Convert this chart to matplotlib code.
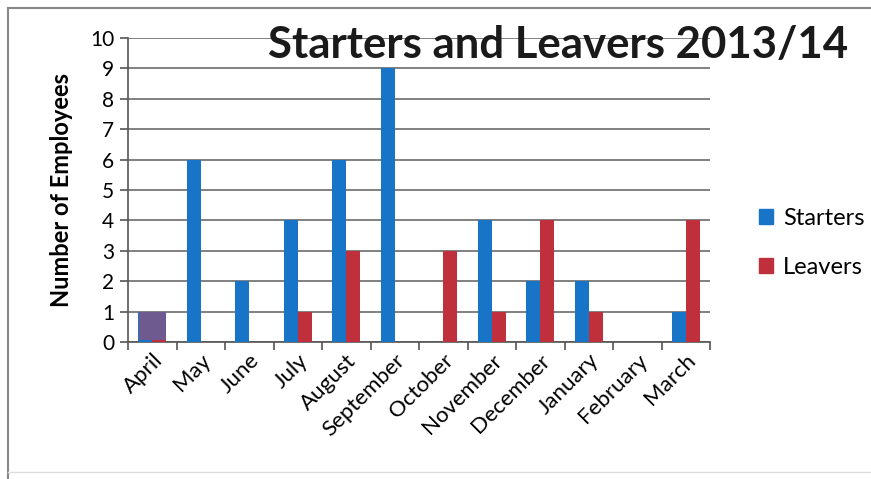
import matplotlib
matplotlib.use("Agg")
import matplotlib.pyplot as plt
import numpy as np
from matplotlib.patches import Patch

months = ["April", "May", "June", "July", "August", "September", "October",
          "November", "December", "January", "February", "March"]
starters = [1, 6, 2, 4, 6, 9, 0, 4, 2, 2, 0, 1]
leavers = [1, 0, 0, 1, 3, 0, 3, 1, 4, 1, 0, 4]
yticks = list(range(0, 11))

blue = "#1874c6"
red = "#c0303c"
purple = "#6e5a8e"

plt.rcParams['font.family'] = ['Lato', 'DejaVu Sans']
fig = plt.figure(figsize=(8.71, 4.79), dpi=100)
ax = fig.add_axes([128 / 871, 1 - 342 / 479, (710 - 128) / 871, (342 - 38) / 479])

x = np.arange(len(months))
w = 0.29
ax.bar(x - w / 2, starters, width=w, color=blue, zorder=3)
ax.bar(x + w / 2, leavers, width=w, color=red, zorder=3)
# purple highlight over April
ax.bar([x[0]], [min(starters[0], leavers[0]) * 0.95], bottom=0.05, width=2 * w * 0.95,
       color=purple, zorder=4)

ax.set_xlim(-0.5, len(months) - 0.5)
ax.set_ylim(0, 10)
ax.set_yticks(yticks)
ax.set_yticklabels([str(t) for t in yticks], fontsize=15)
ax.yaxis.grid(True, color="#6b6b6b", linewidth=1.2, zorder=0)
ax.set_axisbelow(True)

ax.set_xticks(x)
ax.set_xticklabels(months, rotation=45, ha="right", rotation_mode="anchor", fontsize=16)
ax.tick_params(axis="x", length=0, pad=6)
ax.set_xticks(np.arange(-0.5, len(months), 1), minor=True)
ax.tick_params(axis="x", which="minor", length=6, color="#555555", width=1.2)
ax.tick_params(axis="y", length=6, color="#555555", width=1.2, pad=4)

for s in ["top", "right"]:
    ax.spines[s].set_visible(False)
for s in ["left", "bottom"]:
    ax.spines[s].set_color("#555555")
    ax.spines[s].set_linewidth(1.2)

ax.set_ylabel("Number of Employees", fontsize=17, fontweight="bold", labelpad=12)

fig.text(558 / 871, 1 - 45 / 479, "Starters and Leavers 2013/14", fontsize=31.5,
         fontweight="bold", ha="center", va="center", color="#1a1a1a", zorder=10)

handles = [Patch(color=blue, label="Starters"), Patch(color=red, label="Leavers")]
fig.legend(handles=handles, loc="center left", bbox_to_anchor=(738 / 871, 1 - 243 / 479),
           frameon=False, fontsize=17, handlelength=0.6, handleheight=0.6,
           handletextpad=0.4, labelspacing=1.2)

# border frame like the scanned picture
fig.add_artist(plt.Line2D([8 / 871, 1], [1 - 8 / 479, 1 - 8 / 479], color="#888888", lw=1.5))
fig.add_artist(plt.Line2D([8 / 871, 8 / 871], [0, 1 - 8 / 479], color="#888888", lw=1.5))
fig.add_artist(plt.Line2D([8 / 871, 1], [1 - 472 / 479, 1 - 472 / 479], color="#dddddd", lw=1.0))

fig.savefig("out.png", dpi=100)
